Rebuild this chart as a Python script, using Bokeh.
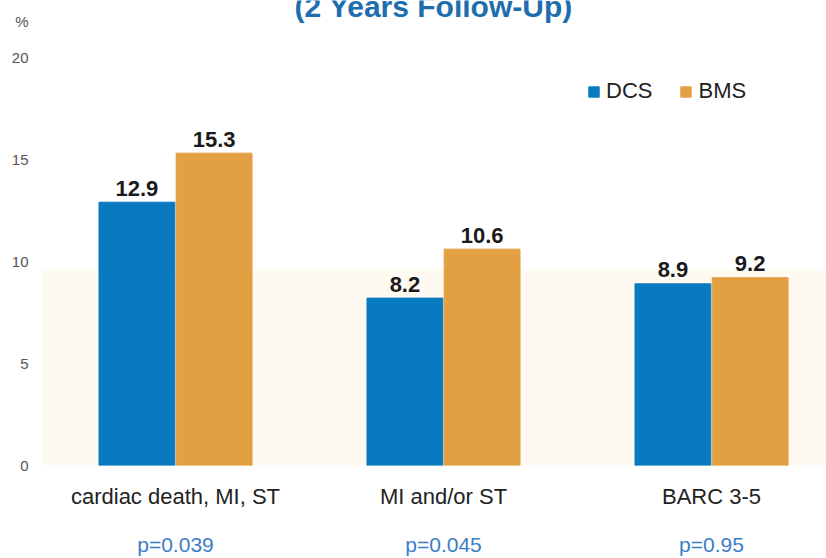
from bokeh.plotting import figure
from bokeh.models import (Range1d, FixedTicker, ColumnDataSource, Label, LinearAxis,
                          BoxAnnotation, Legend, LegendItem)
from bokeh.core.properties import value
from bokeh.embed import file_html
from bokeh.resources import INLINE

# ---- data ----
categories = ["cardiac death, MI, ST", "MI and/or ST", "BARC 3-5"]
dcs = [12.9, 8.2, 8.9]
bms = [15.3, 10.6, 9.2]
p_values = ["p=0.039", "p=0.045", "p=0.95"]
series_names = ["DCS", "BMS"]
y_ticks = [0, 5, 10, 15, 20]
title_text = "(2 Years Follow-Up)"
unit_text = "%"

# ---- styles ----
BLUE = "#0A7AC0"
ORANGE = "#E2A042"
FONT = "Liberation Sans"
OFFSET = 0.144
BAR_W = 0.283
PX = 20.5             # pixels per y unit
LBL_GAP = 14 / PX     # label centre above bar top
UNIT_Y = 21.75        # position of the "%" unit mark on the y axis

idx = list(range(len(categories)))
src = ColumnDataSource(dict(
    x_dcs=[i - OFFSET for i in idx],
    x_bms=[i + OFFSET for i in idx],
    dcs=dcs, bms=bms,
    dcs_ly=[v + LBL_GAP for v in dcs],
    bms_ly=[v + LBL_GAP for v in bms],
    dcs_lbl=[f"{v:.1f}" for v in dcs],
    bms_lbl=[f"{v:.1f}" for v in bms],
))

p = figure(width=826, height=558, output_backend="svg", toolbar_location=None,
           x_range=Range1d(-0.5, 2.429), y_range=Range1d(0, 22.78),
           min_border_left=41, min_border_right=0, min_border_top=0, min_border_bottom=91)
p.outline_line_color = None
p.xgrid.visible = False
p.ygrid.visible = False
p.background_fill_color = "white"

p.add_layout(BoxAnnotation(bottom=0, top=9.6, fill_color="#FFFAF1", fill_alpha=1.0,
                           line_color=None, level="underlay"))

r1 = p.vbar(x="x_dcs", top="dcs", width=BAR_W, source=src, color=BLUE)
r2 = p.vbar(x="x_bms", top="bms", width=BAR_W, source=src, color=ORANGE)

for xcol, ycol, tcol in (("x_dcs", "dcs_ly", "dcs_lbl"), ("x_bms", "bms_ly", "bms_lbl")):
    p.text(x=xcol, y=ycol, text=tcol, source=src, text_align="center",
           text_baseline="middle", text_font=value(FONT),
           text_font_style="bold", text_font_size="22px", text_color="#1a1a1a")

# y axis (with the unit mark at its top)
p.yaxis.ticker = FixedTicker(ticks=y_ticks + [UNIT_Y])
p.yaxis.major_label_overrides = {UNIT_Y: unit_text}
p.yaxis.axis_line_color = None
p.yaxis.major_tick_line_color = None
p.yaxis.minor_tick_line_color = None
p.yaxis.major_label_standoff = 7
p.yaxis.major_label_text_font = FONT
p.yaxis.major_label_text_font_size = "15px"
p.yaxis.major_label_text_color = "#555555"

# category axis
p.xaxis.ticker = FixedTicker(ticks=idx)
p.xaxis.major_label_overrides = {i: c for i, c in zip(idx, categories)}
p.xaxis.axis_line_color = None
p.xaxis.major_tick_line_color = None
p.xaxis.minor_tick_line_color = None
p.xaxis.major_label_standoff = 12
p.xaxis.major_label_text_font = FONT
p.xaxis.major_label_text_font_size = "22px"
p.xaxis.major_label_text_color = "#222222"

# p-value axis below the category axis
pax = LinearAxis(ticker=FixedTicker(ticks=idx),
                 major_label_overrides={i: t for i, t in zip(idx, p_values)},
                 axis_line_color=None, major_tick_line_color=None,
                 minor_tick_line_color=None, major_label_standoff=15,
                 major_label_text_font=FONT, major_label_text_font_size="21px",
                 major_label_text_color="#3C7DC8")
p.add_layout(pax, "below")

# title
p.add_layout(Label(x=0.963, y=22.47, text=title_text, text_align="center",
                   text_baseline="alphabetic", text_font=FONT,
                   text_font_style="bold", text_font_size="30px", text_color="#1E6EAE"))

legend = Legend(items=[LegendItem(label=series_names[0], renderers=[r1]),
                       LegendItem(label=series_names[1], renderers=[r2])],
                orientation="horizontal", location=(546, 361),
                glyph_width=13, glyph_height=13, label_standoff=6, spacing=27,
                padding=0, margin=0, label_height=25,
                label_text_font=FONT, label_text_font_size="22px",
                label_text_color="#222222",
                border_line_alpha=0, background_fill_alpha=0)
p.add_layout(legend, "center")

open("out.html", "w").write(file_html(p, INLINE))
